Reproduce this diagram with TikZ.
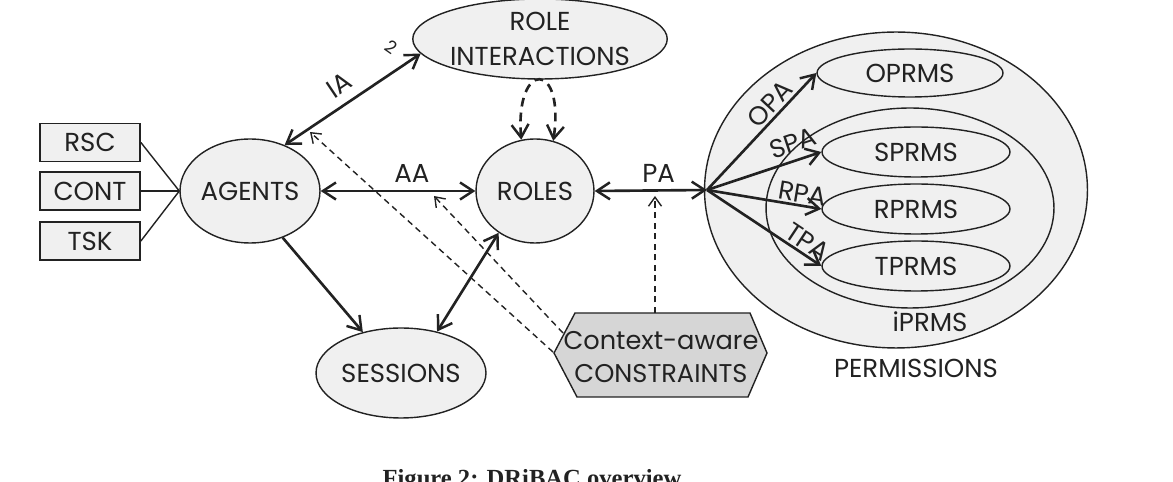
\documentclass[tikz,border=0pt]{standalone}
\usepackage{fontspec}
\setmainfont{Poppins}
\newfontfamily\capfont{Liberation Serif}
\usetikzlibrary{arrows.meta,shapes.geometric}
\definecolor{nfill}{HTML}{F0F0F0}
\definecolor{hfill}{HTML}{D6D6D6}
\definecolor{ink}{HTML}{222222}
\begin{document}
\begin{tikzpicture}[x=0.02cm,y=-0.02cm,
  lbl/.style={font=\fontsize{14.8}{18}\selectfont, text=ink},
  ell/.style={ellipse, draw=ink, line width=0.8pt, fill=nfill, inner sep=0pt, lbl},
  box/.style={rectangle, draw=ink, line width=1pt, fill=nfill, minimum width=2cm, minimum height=0.76cm, inner sep=0pt, lbl},
  tipA/.tip={Straight Barb[length=2.6mm,width=3.4mm,line width=1.4pt]},
  tipB/.tip={Straight Barb[length=1.8mm,width=2.6mm,line width=0.8pt]},
  arr/.style={line width=1.5pt, draw=ink, -tipA},
  darr/.style={line width=1.5pt, draw=ink, tipA-tipA},
  dsh/.style={line width=0.8pt, draw=ink, dash pattern=on 3.5pt off 2.5pt, -tipB},
  dloop/.style={line width=1.5pt, draw=ink, dash pattern=on 5pt off 3.5pt, tipA-tipA},
  thinln/.style={line width=0.8pt, draw=ink},
  alab/.style={lbl, inner sep=1pt},
]
\useasboundingbox (0,0) rectangle (1173,482);

% permissions area
\node[ell, minimum width=7.66cm, minimum height=6.32cm] (perm) at (896,190) {};
\node[ell, minimum width=5.76cm, minimum height=4.0cm] (iprms) at (910,208) {};
\node[ell, minimum width=3.72cm, minimum height=0.96cm] (oprms) at (910,73) {OPRMS};
\node[ell, minimum width=3.76cm, minimum height=1.0cm] (sprms) at (916,152) {SPRMS};
\node[ell, minimum width=3.76cm, minimum height=1.0cm] (rprms) at (916,209) {RPRMS};
\node[ell, minimum width=3.76cm, minimum height=1.0cm] (tprms) at (916,266) {TPRMS};
\node[lbl] (iplab) at (930,322) {iPRMS};
\node[lbl] (permlab) at (916,368) {PERMISSIONS};

% main nodes
\node[ell, minimum width=2.8cm, minimum height=2.08cm] (agents) at (250,191) {AGENTS};
\node[ell, minimum width=2.36cm, minimum height=2.08cm] (roles) at (535,191) {ROLES};
\node[ell, minimum width=5.08cm, minimum height=1.6cm, align=center, font=\fontsize{14.8}{19.5}\selectfont] (roleint) at (540,39) {ROLE\\INTERACTIONS};
\node[ell, minimum width=3.4cm, minimum height=1.8cm] (sessions) at (401,373) {SESSIONS};

\node[box] (rsc) at (90,142.5) {RSC};
\node[box] (cont) at (90,191) {CONT};
\node[box] (tsk) at (90,241) {TSK};

% context-aware constraints hexagon
\coordinate (hl) at (554,353);
\coordinate (htl) at (575,313);
\coordinate (htr) at (750,313);
\coordinate (hr) at (767,353);
\coordinate (hbr) at (748,397);
\coordinate (hbl) at (577,397);
\draw[fill=hfill, draw=ink, line width=0.8pt] (hl) -- (htl) -- (htr) -- (hr) -- (hbr) -- (hbl) -- cycle;
\node[lbl, align=center, font=\fontsize{14.6}{18.5}\selectfont] (ctx) at (661,357) {Context-aware\\CONSTRAINTS};
\coordinate (c1) at (563,333);
\coordinate (c2) at (553,352);
\coordinate (c3) at (655,313);

% attribute lines
\draw[thinln] (rsc.east) -- (agents.west);
\draw[thinln] (cont.east) -- (agents.west);
\draw[thinln] (tsk.east) -- (agents.west);

% hub
\coordinate (hub) at (707,190);

% assignments
\draw[darr] (agents.53) -- node[alab, sloped, above=4pt, pos=0.48] (ialab) {IA} (roleint.187);
\node[font=\fontsize{10}{11}\selectfont, text=ink, rotate=-35] (two) at (391,47) {2};
\draw[darr] (agents.east) -- node[alab, above=3pt, pos=0.59] (aalab) {AA} (roles.west);
\draw[darr] (roles.east) -- node[alab, above=3pt, pos=0.57] (palab) {PA} (hub);
\draw[arr] (agents.-55) -- (sessions.133);
\draw[darr] (roles.229) -- (sessions.49);

\draw[arr] (hub) -- node[alab, sloped, above=0pt, pos=0.66] (opalab) {OPA} (oprms.west);
\draw[arr] (hub) -- node[alab, sloped, above=3pt, pos=0.8] (spalab) {SPA} (sprms.west);
\draw[arr] (hub) -- node[alab, sloped, above=0pt, pos=0.82] (rpalab) {RPA} (rprms.west);
\draw[arr] (hub) -- node[alab, sloped, above=0pt, pos=0.82] (tpalab) {TPA} (tprms.west);

% role interaction loop
\draw[dloop] (roles.105) .. controls (515,60) and (565,60) .. (roles.70);

% constraint arrows
\coordinate (d1) at (434,196);
\coordinate (d2) at (310,132);
\coordinate (d3) at (655,196);
\draw[dsh] (c1) -- (d1);
\draw[dsh] (c2) -- (d2);
\draw[dsh] (c3) -- (d3);

% caption
\node[anchor=base, font=\capfont\bfseries\fontsize{14}{16}\selectfont, text=ink] (cap) at (532,487) {Figure 2: DRiBAC overview};
\end{tikzpicture}
\end{document}
